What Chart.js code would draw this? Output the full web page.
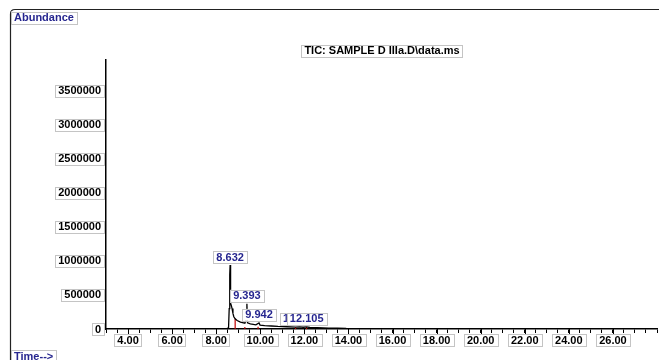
<!DOCTYPE html>
<html>
<head>
<meta charset="utf-8">
<script src="https://cdn.jsdelivr.net/npm/chart.js@4/dist/chart.umd.min.js"></script>
<style>
    html, body { margin: 0; padding: 0; background: #fff; }
    #wrap { width: 659px; height: 360px; }
</style>
</head>
<body>
<div id="wrap"><canvas id="ticChart" width="659" height="360"></canvas></div>
<script>
// TIC chromatogram data (retention time in min, abundance)
const retentionTimes = [3.0, 8.45, 8.56, 8.59, 8.61, 8.62, 8.632, 8.645, 8.66, 8.69, 8.72, 8.76, 8.80, 8.86,
    8.95, 9.10, 9.30, 9.37, 9.393, 9.42, 9.55, 9.80, 9.942, 9.99, 10.2, 10.5, 10.8, 11.2, 11.6,
    11.78, 11.95, 12.105, 12.25, 12.6, 13.1, 13.5, 13.9];
const abundance = [2000, 3000, 15000, 300000, 620000, 800000, 940000, 600000, 380000, 340000, 300000, 230000, 180000, 150000,
    125000, 100000, 85000, 150000, 370000, 90000, 75000, 62000, 90000, 58000, 50000, 44000, 38000, 33000, 28000,
    30000, 26000, 32000, 22000, 18000, 14000, 12000, 10000];

// integration markers (red)
const markTimes = [8.86, 9.30, 9.90, 11.60, 12.10];
const markHeights = [150000, 30000, 32000, 24000, 30000];

// labelled peaks
const peakTimes = [8.632, 9.393, 9.942, 11.78, 12.105];
const peakValues = [940000, 370000, 90000, 30000, 32000];
const peakLabels = ["8.632", "9.393", "9.942", "11.780", "12.105"];

// axis tick labels
const xTickValues = [4, 6, 8, 10, 12, 14, 16, 18, 20, 22, 24, 26];
const yTickValues = [0, 500000, 1000000, 1500000, 2000000, 2500000, 3000000, 3500000];

const chartTitle = "TIC: SAMPLE D IIIa.D\\data.ms";

const FONT = "bold 11px 'Liberation Sans', Arial, sans-serif";
const BLUE = "#26268f";

// red marker dataset: vertical drops separated by gaps
const markData = [];
markTimes.forEach((t, i) => {
    markData.push({ x: t, y: 0 });
    markData.push({ x: t, y: markHeights[i] });
    markData.push({ x: t, y: null });
});

// Draw a text inside a white box with light border
function boxText(ctx, text, x, y, align, color) {
    ctx.font = FONT;
    const w = ctx.measureText(text).width + 6;
    const h = 12;
    let left = x;
    if (align === "center") left = x - w / 2;
    if (align === "right") left = x - w;
    ctx.fillStyle = "#fff";
    ctx.fillRect(left, y - h / 2, w, h);
    ctx.strokeStyle = "#c4c4c4";
    ctx.lineWidth = 1;
    ctx.strokeRect(Math.round(left) + 0.5, Math.round(y - h / 2) + 0.5, Math.round(w), h);
    ctx.fillStyle = color;
    ctx.textAlign = "left";
    ctx.textBaseline = "middle";
    ctx.fillText(text, left + 3, y + 0.5);
}

const decorPlugin = {
    id: "decor",
    afterDraw(chart) {
        const ctx = chart.ctx;
        const xs = chart.scales.x;
        const ys = chart.scales.y;
        ctx.save();

        // outer frame
        ctx.strokeStyle = "#222";
        ctx.lineWidth = 1.2;
        ctx.beginPath();
        ctx.moveTo(10.5, 360);
        ctx.lineTo(10.5, 14);
        ctx.quadraticCurveTo(10.5, 9.5, 15, 9.5);
        ctx.lineTo(659, 9.5);
        ctx.stroke();

        boxText(ctx, "Abundance", 11, 17.5, "left", BLUE);
        boxText(ctx, "Time-->", 11, 356, "left", BLUE);
        boxText(ctx, chartTitle, 382, 50.5, "center", "#000");

        // longer major ticks on x axis
        ctx.strokeStyle = "#000";
        ctx.lineWidth = 1;
        xTickValues.forEach((v) => {
            const px = Math.round(xs.getPixelForValue(v)) + 0.5;
            ctx.beginPath();
            ctx.moveTo(px, ys.bottom);
            ctx.lineTo(px, ys.bottom + 7);
            ctx.stroke();
        });

        xTickValues.forEach((v) => {
            boxText(ctx, v.toFixed(2), xs.getPixelForValue(v), 340, "center", "#000");
        });
        yTickValues.forEach((v) => {
            boxText(ctx, String(v), xs.left - 2, ys.getPixelForValue(v), "right", "#000");
        });

        // peak labels, drawn in order so later ones overlap earlier ones
        peakTimes.forEach((t, i) => {
            const px = xs.getPixelForValue(t);
            const py = ys.getPixelForValue(peakValues[i]);
            boxText(ctx, peakLabels[i], px, py - 8, "center", BLUE);
        });
        ctx.restore();
    },
};

const ctx = document.getElementById("ticChart");
new Chart(ctx, {
    type: "line",
    data: {
        datasets: [
            {
                label: "TIC",
                data: retentionTimes.map((t, i) => ({ x: t, y: abundance[i] })),
                borderColor: "#000",
                borderWidth: 1.3,
                pointRadius: 0,
                tension: 0,
                fill: false,
            },
            {
                label: "integration",
                data: markData,
                borderColor: "#c00000",
                borderWidth: 1.2,
                pointRadius: 0,
                spanGaps: false,
                fill: false,
            },
        ],
    },
    options: {
        responsive: false,
        animation: false,
        parsing: true,
        layout: { padding: { left: 0, right: 2, top: 60, bottom: 0 } },
        scales: {
            x: {
                type: "linear",
                min: 3,
                max: 28,
                afterFit: (s) => { s.height = 31; },
                ticks: { display: false, stepSize: 0.5, maxTicksLimit: 100 },
                grid: {
                    display: true,
                    drawOnChartArea: false,
                    drawTicks: true,
                    tickLength: 4,
                    color: "#000",
                    lineWidth: 1,
                },
                border: { display: true, color: "#000", width: 1.5 },
            },
            y: {
                type: "linear",
                min: 0,
                max: 3950000,
                afterFit: (s) => { s.width = 106; },
                ticks: { display: false },
                grid: { display: false },
                border: { display: true, color: "#000", width: 1.5 },
            },
        },
        plugins: {
            legend: { display: false },
            tooltip: { enabled: false },
            title: { display: false },
        },
    },
    plugins: [decorPlugin],
});
</script>
</body>
</html>
